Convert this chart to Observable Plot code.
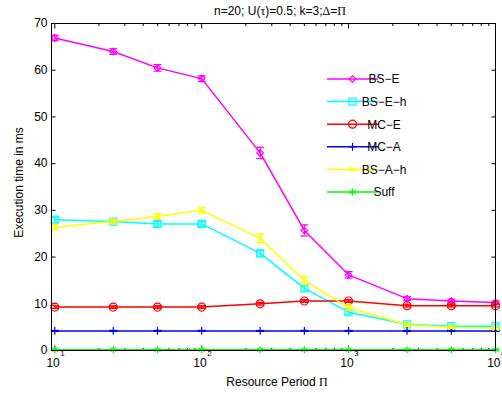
<!DOCTYPE html>
<html>
<head>
<meta charset="utf-8">
<script src="https://cdn.jsdelivr.net/npm/d3@7"></script>
<script src="https://cdn.jsdelivr.net/npm/@observablehq/plot@0.6"></script>
<style>
  body { margin: 0; background: #fff; }
  #chart svg { display: block; }
</style>
</head>
<body>
<div id="chart"></div>
<script>
// Resource periods (log axis)
const periods = [10, 25, 50, 100, 250, 500, 1000, 2500, 5000, 10000];

// Mean execution time (ms) and half-width of the error bars, per method
const bsE      = [66.9, 64.0, 60.5, 58.2, 42.3, 25.7, 16.2, 11.1, 10.6, 10.3];
const bsEErr   = [0.6, 0.6, 0.7, 0.6, 1.2, 1.2, 0.7, 0.4, 0.4, 0.3];
const bsEh     = [28.0, 27.6, 27.1, 27.1, 20.8, 13.3, 8.2, 5.6, 5.2, 5.2];
const bsEhErr  = [0.5, 0.5, 0.5, 0.5, 0.6, 0.6, 0.4, 0.3, 0.3, 0.3];
const mcE      = [9.3, 9.3, 9.3, 9.3, 10.0, 10.6, 10.6, 9.6, 9.6, 9.6];
const mcEErr   = [0.3, 0.3, 0.3, 0.3, 0.3, 0.3, 0.3, 0.3, 0.3, 0.3];
const mcA      = [4.2, 4.2, 4.2, 4.2, 4.2, 4.2, 4.2, 4.2, 4.2, 4.2];
const mcAErr   = [0.1, 0.1, 0.1, 0.1, 0.1, 0.1, 0.1, 0.1, 0.1, 0.1];
const bsAh     = [26.4, 27.6, 28.7, 30.0, 24.0, 15.0, 9.2, 5.5, 5.0, 4.8];
const bsAhErr  = [0.6, 0.5, 0.6, 0.6, 0.9, 0.9, 0.6, 0.3, 0.3, 0.3];
const suff     = [0.15, 0.15, 0.15, 0.15, 0.15, 0.15, 0.15, 0.15, 0.15, 0.15];
const suffErr  = [0.05, 0.05, 0.05, 0.05, 0.05, 0.05, 0.05, 0.05, 0.05, 0.05];

const seriesNames  = ["BS−E", "BS−E−h", "MC−E", "MC−A", "BS−A−h", "Suff"];
const seriesValues = [bsE, bsEh, mcE, mcA, bsAh, suff];
const seriesErrors = [bsEErr, bsEhErr, mcEErr, mcAErr, bsAhErr, suffErr];

// Styling per series
const seriesColors  = ["#ff00ff", "#00ffff", "#ff0000", "#0000ff", "#ffff00", "#00ff00"];
const seriesSymbols = ["diamond2", "square2", "circle", "plus", "times", "asterisk"];
const seriesMarkerR = [3, 4.5, 4, 2.6, 2.8, 3.3];

// Axis ticks
const yTicks = [0, 10, 20, 30, 40, 50, 60, 70];
const xTicks = [10, 100, 1000, 10000];
const xTickExponents = ["1", "2", "3", "4"];
const xMinorTicks = [10, 100, 1000].flatMap(d => [2, 3, 4, 5, 6, 7, 8, 9].map(m => m * d));

const titleParts = [
  ["n=20; U(", "sans"], ["τ", "serif"], [")=0.5; k=3;", "sans"],
  ["Δ", "serif"], ["=", "sans"], ["Π", "serif"]
];
const xLabelParts = [["Resource Period ", "sans"], ["Π", "serif"]];
const yLabel = "Execution time in ms";

const table = seriesNames.flatMap((name, i) =>
  periods.map((p, j) => ({series: name, period: p, value: seriesValues[i][j], err: seriesErrors[i][j]}))
);

// Small stroke-only symbols: axis ticks and error-bar caps
const segment = (ux, uy) => ({
  draw(ctx, size) {
    const r = Math.sqrt(size / Math.PI);
    ctx.moveTo(0, 0);
    ctx.lineTo(ux * r, uy * r);
  }
});
const capSymbol = {
  draw(ctx, size) {
    const r = Math.sqrt(size / Math.PI);
    ctx.moveTo(-r, 0);
    ctx.lineTo(r, 0);
  }
};

const W = 502, H = 393;
const M = {left: 51, right: 7, top: 23, bottom: 43};

const seriesMarks = seriesNames.flatMap((name, i) => {
  const rows = table.filter(d => d.series === name);
  const stroke = seriesColors[i];
  return [
    Plot.line(rows, {x: "period", y: "value", stroke, strokeWidth: 1.5}),
    Plot.ruleX(rows, {x: "period", y1: d => d.value - d.err, y2: d => d.value + d.err, stroke, strokeWidth: 1.2}),
    Plot.dot(rows, {x: "period", y: d => d.value - d.err, symbol: capSymbol, r: 4, stroke, fill: "none", strokeWidth: 1.2}),
    Plot.dot(rows, {x: "period", y: d => d.value + d.err, symbol: capSymbol, r: 4, stroke, fill: "none", strokeWidth: 1.2}),
    Plot.dot(rows, {x: "period", y: "value", symbol: seriesSymbols[i], r: seriesMarkerR[i], stroke, fill: "none", strokeWidth: 1.2})
  ];
});

const tickStyle = {stroke: "black", fill: "none", strokeWidth: 1};

const chart = Plot.plot({
  width: W,
  height: H,
  marginLeft: M.left,
  marginRight: M.right,
  marginTop: M.top,
  marginBottom: M.bottom,
  style: {fontFamily: "'Liberation Sans', Arial, sans-serif", fontSize: "12px", background: "#fff", color: "black"},
  x: {type: "log", domain: [9.5, 10000], axis: null},
  y: {domain: [0, 70], axis: null},
  marks: [
    // inward ticks on all four sides
    Plot.dot(yTicks, {y: d => d, frameAnchor: "left", symbol: segment(1, 0), r: 4, ...tickStyle}),
    Plot.dot(yTicks, {y: d => d, frameAnchor: "right", symbol: segment(-1, 0), r: 4, ...tickStyle}),
    Plot.dot(xTicks, {x: d => d, frameAnchor: "bottom", symbol: segment(0, -1), r: 5, ...tickStyle}),
    Plot.dot(xTicks, {x: d => d, frameAnchor: "top", symbol: segment(0, 1), r: 5, ...tickStyle}),
    Plot.dot(xMinorTicks, {x: d => d, frameAnchor: "bottom", symbol: segment(0, -1), r: 2.5, ...tickStyle}),
    Plot.dot(xMinorTicks, {x: d => d, frameAnchor: "top", symbol: segment(0, 1), r: 2.5, ...tickStyle}),
    // tick labels
    Plot.text(yTicks, {y: d => d, text: d => String(d), frameAnchor: "left", textAnchor: "end", dx: -4, fontSize: 12}),
    Plot.text(xTicks, {x: d => d, text: () => "10", frameAnchor: "bottom", textAnchor: "end", dx: 5, dy: 16.5, fontSize: 12}),
    Plot.text(xTicks, {x: d => d, text: (d, i) => xTickExponents[i], frameAnchor: "bottom", textAnchor: "start", dx: 5.5, dy: 5.5, fontSize: 8}),
    ...seriesMarks,
    Plot.frame({stroke: "black", strokeWidth: 1})
  ]
});

document.getElementById("chart").appendChild(chart);

// Title, axis labels and legend (mixed sans / symbol fonts)
const svg = d3.select(chart);
const fontOf = k => k === "serif" ? "'Liberation Serif', 'Times New Roman', serif" : "'Liberation Sans', Arial, sans-serif";
const plotCx = M.left + (W - M.left - M.right) / 2;

function richText(parts, x, y, size) {
  const t = svg.append("text")
    .attr("x", x).attr("y", y)
    .attr("text-anchor", "middle")
    .attr("font-size", size)
    .attr("fill", "black");
  parts.forEach(([s, k]) => t.append("tspan").attr("font-family", fontOf(k)).text(s));
  return t;
}
richText(titleParts, plotCx + 7, 14.5, 12);
richText(xLabelParts, plotCx + 4, 386, 12);

svg.append("text")
  .attr("transform", `translate(22.5, ${(M.top + H - M.bottom) / 2 - 4}) rotate(-90)`)
  .attr("text-anchor", "middle")
  .attr("font-size", 12)
  .attr("font-family", fontOf("sans"))
  .attr("fill", "black")
  .text(yLabel);

const legend = svg.append("g").attr("transform", "translate(327, 79)");
seriesNames.forEach((name, i) => {
  const row = legend.append("g").attr("transform", `translate(0, ${i * 22.6})`);
  row.append("line").attr("x1", 0).attr("x2", 51).attr("y1", 0).attr("y2", 0)
    .attr("stroke", seriesColors[i]).attr("stroke-width", 1.5);
  const r = seriesMarkerR[i];
  const type = {diamond2: d3.symbolDiamond2, square2: d3.symbolSquare2, circle: d3.symbolCircle,
                plus: d3.symbolPlus, times: d3.symbolTimes, asterisk: d3.symbolAsterisk}[seriesSymbols[i]];
  row.append("path").attr("transform", "translate(25.5, 0)")
    .attr("d", d3.symbol(type, Math.PI * r * r)())
    .attr("fill", "none").attr("stroke", seriesColors[i]).attr("stroke-width", 1.2);
  row.append("text").attr("x", 57).attr("y", 0).attr("dy", "0.36em")
    .attr("font-size", 12).attr("font-family", fontOf("sans")).attr("fill", "black")
    .text(name);
});
</script>
</body>
</html>
